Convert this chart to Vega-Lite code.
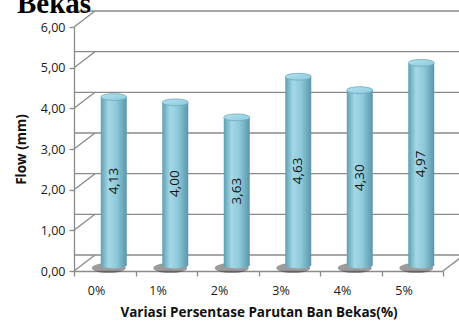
{
  "$schema": "https://vega.github.io/schema/vega-lite/v6.json",
  "width": 369,
  "height": 244,
  "autosize": "none",
  "padding": {"left": 74, "top": 27, "right": 16, "bottom": 56},
  "title": {
    "text": "Bekas",
    "anchor": "start",
    "frame": "group",
    "font": "Liberation Serif",
    "fontSize": 29,
    "fontWeight": "bold",
    "color": "#000000",
    "baseline": "alphabetic",
    "dx": -57,
    "offset": -34
  },
  "datasets": {
    "flow": [
      {"cat": "0%", "flow": 4.13},
      {"cat": "1%", "flow": 4.00},
      {"cat": "2%", "flow": 3.63},
      {"cat": "3%", "flow": 4.63},
      {"cat": "4%", "flow": 4.30},
      {"cat": "5%", "flow": 4.97}
    ],
    "grid": [{"v": 0}, {"v": 1}, {"v": 2}, {"v": 3}, {"v": 4}, {"v": 5}, {"v": 6}]
  },
  "resolve": {"scale": {"y": "independent"}},
  "layer": [
    {
      "layer": [
        {
          "data": {"name": "grid"},
          "mark": {"type": "rule", "color": "#8a8a8a", "strokeWidth": 1.3, "xOffset": 21, "yOffset": -16},
          "encoding": {
            "y": {
              "field": "v",
              "type": "quantitative",
              "scale": {"domain": [0, 6]},
              "axis": {
                "title": "Flow (mm)",
                "values": [0, 1, 2, 3, 4, 5, 6],
                "format": ".2f",
                "grid": false,
                "labelPadding": 4,
                "titlePadding": 12
              }
            }
          }
        },
        {
          "data": {"name": "grid"},
          "mark": {"type": "point", "shape": "M0,0L1,-0.762", "size": 1764, "filled": false, "stroke": "#8a8a8a", "strokeWidth": 1.3, "opacity": 1},
          "encoding": {
            "x": {"datum": "0%", "type": "nominal", "bandPosition": 0},
            "y": {"field": "v", "type": "quantitative"}
          }
        },
        {
          "data": {"values": [{"v": 0}]},
          "mark": {"type": "point", "shape": "M0,0L1,-0.762", "size": 1764, "filled": false, "stroke": "#8a8a8a", "strokeWidth": 1.3, "opacity": 1},
          "encoding": {
            "x": {"datum": "5%", "type": "nominal", "bandPosition": 1},
            "y": {"field": "v", "type": "quantitative"}
          }
        },
        {
          "data": {"name": "flow"},
          "mark": {"type": "point", "shape": "M-1,0A1,0.3,0,1,0,1,0A1,0.3,0,1,0,-1,0Z", "size": 1150, "filled": true, "color": "#3a3a3a", "opacity": 0.5, "xOffset": 4, "yOffset": -3},
          "encoding": {
            "x": {"field": "cat", "type": "nominal"},
            "y": {"datum": 0, "type": "quantitative"}
          }
        },
        {
          "data": {"name": "flow"},
          "mark": {
            "type": "point",
            "shape": "M-1,0A1,0.26,0,1,0,1,0A1,0.26,0,1,0,-1,0Z",
            "size": 676,
            "filled": true,
            "opacity": 1,
            "xOffset": 9,
            "yOffset": -6,
            "color": {"gradient": "linear", "x1": 0, "x2": 1, "y1": 0, "y2": 0,
              "stops": [
                {"offset": 0, "color": "#5e9fb2"},
                {"offset": 0.3, "color": "#a3d8e7"},
                {"offset": 0.6, "color": "#8fcadb"},
                {"offset": 1, "color": "#5896a8"}
              ]}
          },
          "encoding": {
            "x": {"field": "cat", "type": "nominal"},
            "y": {"datum": 0, "type": "quantitative"}
          }
        },
        {
          "data": {"name": "flow"},
          "mark": {
            "type": "bar",
            "width": 26,
            "xOffset": 9,
            "yOffset": -6,
            "color": {"gradient": "linear", "x1": 0, "x2": 1, "y1": 0, "y2": 0,
              "stops": [
                {"offset": 0, "color": "#5e9fb2"},
                {"offset": 0.3, "color": "#a3d8e7"},
                {"offset": 0.6, "color": "#8fcadb"},
                {"offset": 1, "color": "#5896a8"}
              ]}
          },
          "encoding": {
            "x": {
              "field": "cat",
              "type": "nominal",
              "sort": null,
              "scale": {"paddingInner": 0, "paddingOuter": 0},
              "axis": {
                "title": "Variasi  Persentase Parutan Ban Bekas(%)",
                "labelAngle": 0,
                "tickBand": "extent",
                "labelPadding": 14,
                "titlePadding": 9
              }
            },
            "y": {"field": "flow", "type": "quantitative"}
          }
        },
        {
          "data": {"name": "flow"},
          "mark": {
            "type": "point",
            "shape": "M-1,0A1,0.26,0,1,0,1,0A1,0.26,0,1,0,-1,0Z",
            "size": 676,
            "filled": true,
            "opacity": 1,
            "xOffset": 9,
            "yOffset": -6,
            "stroke": "#6aaabd",
            "strokeWidth": 0.8,
            "color": {"gradient": "linear", "x1": 0, "x2": 1, "y1": 0, "y2": 1,
              "stops": [
                {"offset": 0, "color": "#b3e2ee"},
                {"offset": 1, "color": "#8ccadb"}
              ]}
          },
          "encoding": {
            "x": {"field": "cat", "type": "nominal"},
            "y": {"field": "flow", "type": "quantitative"}
          }
        }
      ]
    },
    {
      "data": {"name": "flow"},
      "mark": {"type": "text", "angle": 270, "align": "center", "baseline": "middle", "xOffset": 9, "yOffset": -6, "font": "Open Sans", "fontSize": 13.5, "color": "#111111"},
      "encoding": {
        "x": {"field": "cat", "type": "nominal"},
        "y": {"field": "flow", "type": "quantitative", "scale": {"domain": [0, 12]}, "axis": null},
        "text": {"field": "flow", "type": "quantitative", "format": ".2f"}
      }
    }
  ],
  "config": {
    "locale": {"number": {"decimal": ",", "thousands": ".", "grouping": [3], "currency": ["", ""]}},
    "view": {"stroke": null},
    "axis": {
      "domainColor": "#8a8a8a",
      "domainWidth": 1.3,
      "tickColor": "#8a8a8a",
      "tickWidth": 1.3,
      "tickSize": 5,
      "labelFont": "Open Sans",
      "labelFontSize": 12.5,
      "labelColor": "#1a1a1a",
      "titleFont": "Open Sans",
      "titleFontSize": 13.5,
      "titleFontWeight": "bold",
      "titleColor": "#111111"
    }
  }
}
